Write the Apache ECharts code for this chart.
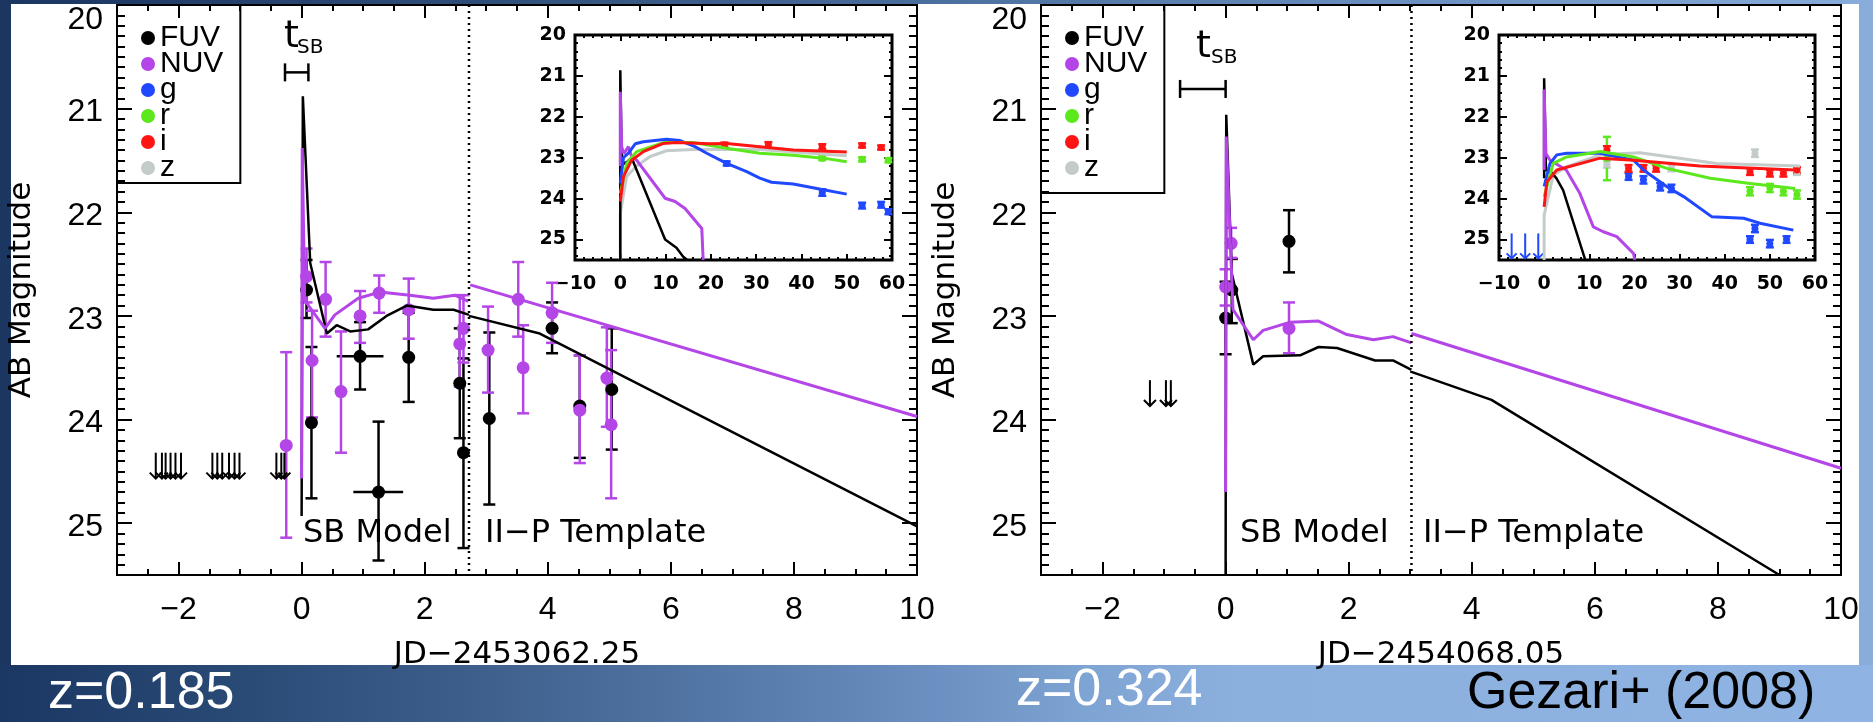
<!DOCTYPE html>
<html><head><meta charset="utf-8">
<script src="https://cdn.jsdelivr.net/npm/echarts@6.0.0/dist/echarts.min.js"></script>
<style>html,body{margin:0;padding:0;background:#fff;}#c{width:1873px;height:722px;}</style>
</head><body><div id="c"></div>
<script>
// ================= DATA =================
const X_MAJOR_TICKS = [-2, 0, 2, 4, 6, 8, 10];
const Y_RANGE = [20, 25.5];
const X_RANGE = [-3, 10];
const INSET_X_RANGE = [-10, 60];
const LEGEND_NAMES = ['FUV', 'NUV', 'g', 'r', 'i', 'z'];

// ---- Panel A (z=0.185), JD-2453062.25 ----
// [x, mag, magLo, magHi, xLo, xHi]
const A_FUV_pts = [
  [0.08, 22.75, 22.46, 23.02, 0.08, 0.08],
  [0.16, 24.03, 23.30, 24.76, 0.16, 0.16],
  [0.95, 23.39, 23.06, 23.71, 0.57, 1.33],
  [1.25, 24.70, 24.02, 25.36, 0.84, 1.65],
  [1.74, 23.40, 22.97, 23.83, 1.74, 1.74],
  [2.57, 23.65, 23.12, 24.18, 2.57, 2.57],
  [2.63, 24.32, 23.41, 25.24, 2.63, 2.63],
  [3.05, 23.99, 23.16, 24.82, 3.05, 3.05],
  [4.07, 23.12, 22.87, 23.36, 4.07, 4.07],
  [4.52, 23.87, 23.38, 24.37, 4.52, 4.52],
  [5.04, 23.71, 23.12, 24.29, 5.04, 5.04]
];
// [x, mag, magLo, magHi]
const A_NUV_pts = [
  [-0.25, 24.25, 23.35, 25.14],
  [0.08, 22.62, 22.35, 22.87],
  [0.17, 23.43, 22.95, 23.98],
  [0.39, 22.84, 22.48, 23.20],
  [0.64, 23.73, 23.15, 24.32],
  [0.95, 23.00, 22.76, 23.26],
  [1.26, 22.78, 22.61, 22.97],
  [1.74, 22.94, 22.64, 23.22],
  [2.57, 23.27, 22.80, 23.68],
  [2.63, 23.12, 22.80, 23.45],
  [3.03, 23.33, 22.91, 23.74],
  [3.52, 22.84, 22.48, 23.20],
  [3.60, 23.50, 23.09, 23.94],
  [4.07, 22.97, 22.68, 23.26],
  [4.52, 23.91, 23.38, 24.42],
  [4.96, 23.60, 23.11, 24.07],
  [5.03, 24.05, 23.33, 24.76]
];
const A_FUV_limit_x = [-2.37, -2.27, -2.21, -2.13, -2.05, -1.96, -1.45, -1.37, -1.29, -1.18, -1.09, -1.01, -0.41, -0.33, -0.28];
const A_FUV_limit_mag = [24.32, 24.57];
const A_FUV_sb = [[0,24.93],[0.02,20.88],[0.14,22.49],[0.41,23.17],[0.57,23.09],[0.79,23.15],[1.08,23.13],[1.38,23.0],[1.71,22.9],[2.14,22.94],[2.47,22.94],[2.72,22.99]];
const A_NUV_sb = [[0,24.57],[0.01,21.38],[0.05,22.85],[0.38,23.12],[0.54,22.99],[0.92,22.83],[1.27,22.77],[1.76,22.8],[2.14,22.83],[2.49,22.8],[2.71,22.86]];
const A_FUV_tpl = [[2.72,23.0],[3.87,23.17],[10,25.03]];
const A_NUV_tpl = [[2.74,22.7],[10,23.97]];
const A_break = 2.72;
const A_tsb = [-0.27, 0.11, 20.65];
// inset A
const A_in_FUV = [[0,25.5],[0,20.86],[0.3,22.9],[0.7,23.15],[1.5,23.1],[2.5,23.0],[9.9,25.0],[12.4,25.2],[13.9,25.42],[14.8,25.5]];
const A_in_NUV = [[0,23.2],[0,21.39],[0.3,22.73],[0.8,22.9],[1.8,22.73],[2.5,22.97],[3.6,23.06],[9.9,23.99],[12.1,24.07],[14.3,24.24],[18.0,24.73],[18.3,25.5]];
const A_in_g = [[0,23.63],[0.7,23.0],[1.8,22.89],[3.3,22.66],[5.1,22.61],[10.2,22.55],[13.2,22.58],[16.5,22.73],[19.1,22.89],[23.5,23.14],[27.9,23.34],[30.8,23.5],[33.4,23.6],[38.2,23.64],[43.4,23.75],[50,23.89]];
const A_in_r = [[0,23.87],[1.4,23.14],[3.6,22.85],[9.5,22.63],[16.1,22.63],[23.5,22.77],[30.8,22.89],[38.2,22.94],[44.8,23.01],[50,23.1]];
const A_in_i = [[0,24.07],[0.7,23.46],[2.5,23.06],[5.1,22.85],[9.5,22.65],[12.4,22.63],[19.8,22.66],[23.5,22.65],[30.8,22.73],[38.2,22.81],[50,22.86]];
const A_in_z = [[0,25.5],[0,24.36],[1.4,23.46],[3.6,23.2],[6.6,22.97],[10.2,22.83],[16.1,22.8],[30.8,22.8],[50,22.95]];
const A_in_i_pts = [[23.0,22.69,22.63,22.75],[32.7,22.69,22.62,22.76],[44.6,22.73,22.67,22.79],[53.4,22.70,22.65,22.75],[57.6,22.75,22.70,22.80]];
const A_in_r_pts = [[44.6,23.01,22.96,23.06],[53.4,23.04,22.99,23.09],[59.2,23.06,23.01,23.11]];
const A_in_g_pts = [[23.5,23.14,23.09,23.19],[44.6,23.85,23.77,23.93],[53.4,24.17,24.10,24.24],[57.6,24.15,24.08,24.22],[59.2,24.32,24.26,24.38]];

// ---- Panel B (z=0.324), JD-2454068.05 ----
const B_FUV_pts = [[0.0,23.02,22.67,23.37],[0.1,22.75,22.45,23.07],[1.03,22.28,21.98,22.58]];
const B_NUV_pts = [[0.0,22.72,22.55,22.90],[0.09,22.30,22.15,22.44],[1.03,23.12,22.87,23.36]];
const B_FUV_limit_x = [-1.23, -0.97, -0.89];
const B_FUV_limit_mag = [23.62, 23.87];
const B_FUV_sb = [[0,25.5],[0.01,21.06],[0.1,22.59],[0.45,23.47],[0.61,23.39],[1.21,23.38],[1.51,23.3],[1.81,23.31],[2.43,23.43],[2.72,23.43],[3.02,23.52]];
const B_NUV_sb = [[0,24.7],[0.01,21.27],[0.12,22.94],[0.45,23.23],[0.61,23.14],[1.05,23.06],[1.51,23.05],[1.97,23.18],[2.4,23.23],[2.72,23.2],[3.02,23.26]];
const B_FUV_tpl = [[3.02,23.54],[4.32,23.81],[9.0,25.5]];
const B_NUV_tpl = [[3.02,23.17],[10,24.47]];
const B_break = 3.02;
const B_tsb = [-0.74, 0.0, 20.81];
// inset B
const B_in_FUV = [[0,23.5],[0,21.06],[0.4,23.3],[1.5,23.35],[2.7,23.5],[4.2,23.79],[9.0,25.46],[9.1,25.5]];
const B_in_NUV = [[0,23.3],[0,21.33],[0.4,22.9],[1.3,23.06],[4.9,23.3],[7.9,23.87],[10.9,24.69],[13.1,24.81],[16.1,24.93],[19.8,25.34],[20.1,25.5]];
const B_in_g = [[0,23.7],[1.3,23.14],[2.8,22.93],[5.0,22.89],[12.4,22.89],[19.8,23.06],[22.0,23.3],[27.2,23.71],[30.9,23.95],[37.1,24.44],[44.2,24.48],[47.8,24.6],[55.2,24.77]];
const B_in_r = [[0,23.95],[2.0,23.14],[5.0,22.98],[12.4,22.85],[19.8,22.98],[27.2,23.26],[36.8,23.5],[45.6,23.63],[55.6,23.75]];
const B_in_i = [[0,24.2],[0.6,23.59],[2.8,23.3],[12.4,23.01],[19.8,23.06],[34.5,23.2],[55.6,23.3]];
const B_in_z = [[0,25.5],[0,24.4],[2.0,23.43],[5.0,23.22],[12.4,22.93],[21.2,22.88],[27.2,22.97],[38.2,23.14],[56.7,23.2]];
const B_in_i_pts = [[13.9,22.81,22.72,22.90],[18.7,23.26,23.18,23.34],[22.0,23.26,23.18,23.34],[24.8,23.26,23.18,23.34],[45.6,23.34,23.26,23.42],[50.0,23.38,23.30,23.46],[53.0,23.38,23.30,23.46],[56.0,23.30,23.23,23.37]];
const B_in_r_pts = [[13.9,23.02,22.49,23.55],[45.6,23.82,23.72,23.92],[50.0,23.74,23.64,23.84],[53.0,23.82,23.72,23.92],[56.0,23.90,23.80,24.00]];
const B_in_g_pts = [[18.7,23.46,23.38,23.54],[22.0,23.54,23.45,23.63],[25.7,23.71,23.62,23.80],[28.2,23.75,23.66,23.84],[46.7,24.73,24.64,24.82],[45.6,25.00,24.92,25.08],[50.0,25.10,25.01,25.19],[53.7,25.00,24.92,25.08]];
const B_in_z_pts = [[13.9,23.16,23.08,23.24],[28.2,23.25,23.17,23.33],[46.7,22.89,22.80,22.98],[56.0,23.35,23.28,23.42]];
const B_in_g_limit_x = [-7.2, -4.2, -1.3];
const B_in_g_limit_mag = [24.85, 25.46];

// ================= STYLE =================
const BLACK = '#000000', PURPLE = '#b445e6', BLUE = '#1f48ff', GREEN = '#5ce81c', RED = '#ff1414', GRAY = '#c3cbcb';
const TICK_FONT = 'Liberation Sans', TITLE_FONT = 'DejaVu Sans';
const minus = v => (v < 0 ? '\u2212' + Math.abs(v) : String(v));
const isInt = v => Math.abs(v - Math.round(v)) < 1e-9;
const tickLS = {color: BLACK, width: 2};

function mainXAxes(gi, name) {
  const base = {gridIndex: gi, type: 'value', min: X_RANGE[0], max: X_RANGE[1], interval: 0.5,
    splitLine: {show: false}, axisLine: {show: false, onZero: false}};
  return [
    Object.assign({}, base, {position: 'bottom',
      axisTick: {inside: true, length: 6, lineStyle: tickLS},
      axisLabel: {margin: 19, color: BLACK, fontFamily: TICK_FONT, fontSize: 32,
        formatter: v => (isInt(v) && Math.round(v) % 2 === 0 ? minus(Math.round(v)) : '')},
      name: name, nameLocation: 'middle', nameGap: 64,
      nameTextStyle: {fontFamily: TITLE_FONT, fontSize: 31, color: BLACK}}),
    Object.assign({}, base, {position: 'bottom', axisLabel: {show: false},
      axisTick: {inside: true, length: 13, customValues: X_MAJOR_TICKS, lineStyle: tickLS}}),
    Object.assign({}, base, {position: 'top', axisLabel: {show: false},
      axisTick: {inside: true, length: 6, lineStyle: tickLS}}),
    Object.assign({}, base, {position: 'top', axisLabel: {show: false},
      axisTick: {inside: true, length: 13, customValues: X_MAJOR_TICKS, lineStyle: tickLS}})
  ];
}
const yLabFont = {fontFamily: TICK_FONT, fontSize: 32, color: BLACK};
function mainYAxes(gi) {
  const base = {gridIndex: gi, type: 'value', inverse: true, min: Y_RANGE[0], max: Y_RANGE[1], interval: 1,
    splitLine: {show: false}, axisLine: {show: false, onZero: false},
    axisTick: {inside: true, length: 15, lineStyle: tickLS},
    minorTick: {show: true, splitNumber: 10, length: 8, lineStyle: tickLS}};
  return [
    Object.assign({}, base, {position: 'left',
      axisLabel: {margin: 14, color: BLACK, fontFamily: TICK_FONT, fontSize: 32,
        formatter: v => (isInt(v) ? (Math.round(v) === Y_RANGE[0] ? '{t|' + Math.round(v) + '}' : '{n|' + Math.round(v) + '}') : ''),
        rich: {t: Object.assign({padding: [30, 0, 0, 0]}, yLabFont), n: Object.assign({padding: [8, 0, 0, 0]}, yLabFont)}},
      name: 'AB Magnitude', nameLocation: 'middle', nameGap: 80,
      nameTextStyle: {fontFamily: TITLE_FONT, fontSize: 31, color: BLACK}}),
    Object.assign({}, base, {position: 'right', axisLabel: {show: false}})
  ];
}
function insetXAxes(gi) {
  const base = {gridIndex: gi, type: 'value', min: INSET_X_RANGE[0], max: INSET_X_RANGE[1], interval: 10,
    splitLine: {show: false}, axisLine: {show: false, onZero: false},
    axisTick: {inside: true, length: 6, lineStyle: tickLS},
    minorTick: {show: true, splitNumber: 5, length: 3, lineStyle: tickLS}};
  return [
    Object.assign({}, base, {position: 'bottom',
      axisLabel: {margin: 15, color: BLACK, fontFamily: TITLE_FONT, fontWeight: 'bold', fontSize: 19, formatter: v => minus(v)}}),
    Object.assign({}, base, {position: 'top', axisLabel: {show: false}})
  ];
}
function insetYAxes(gi) {
  const base = {gridIndex: gi, type: 'value', inverse: true, min: Y_RANGE[0], max: Y_RANGE[1], interval: 1,
    splitLine: {show: false}, axisLine: {show: false, onZero: false},
    axisTick: {inside: true, length: 8, lineStyle: tickLS},
    minorTick: {show: true, splitNumber: 5, length: 3, lineStyle: tickLS}};
  return [
    Object.assign({}, base, {position: 'left',
      axisLabel: {margin: 9, color: BLACK, fontFamily: TITLE_FONT, fontWeight: 'bold', fontSize: 19, formatter: v => (isInt(v) ? String(Math.round(v)) : '')}}),
    Object.assign({}, base, {position: 'right', axisLabel: {show: false}})
  ];
}

// ---------- series helpers ----------
function lineS(data, color, width, xi, yi, extra) {
  return Object.assign({type: 'line', data: data, xAxisIndex: xi, yAxisIndex: yi, showSymbol: false, symbol: 'none',
    lineStyle: {color: color, width: width}, itemStyle: {color: color}, silent: true, clip: true}, extra || {});
}
function errS(data, color, lw, cap, xi, yi) {
  return {type: 'custom', data: data, xAxisIndex: xi, yAxisIndex: yi, silent: true, encode: {x: 0, y: 1},
    renderItem: function (params, api) {
      const x = api.value(0), y = api.value(1), lo = api.value(2), hi = api.value(3);
      const a = api.coord([x, lo]), b = api.coord([x, hi]);
      const st = {stroke: color, lineWidth: lw};
      const ch = [
        {type: 'line', shape: {x1: a[0], y1: a[1], x2: b[0], y2: b[1]}, style: st},
        {type: 'line', shape: {x1: a[0] - cap, y1: a[1], x2: a[0] + cap, y2: a[1]}, style: st},
        {type: 'line', shape: {x1: b[0] - cap, y1: b[1], x2: b[0] + cap, y2: b[1]}, style: st}
      ];
      const xlo = api.value(4), xhi = api.value(5);
      if (xhi > xlo) {
        const c = api.coord([xlo, y]), d = api.coord([xhi, y]);
        ch.push({type: 'line', shape: {x1: c[0], y1: c[1], x2: d[0], y2: d[1]}, style: st});
      }
      return {type: 'group', children: ch};
    }};
}
function ptS(name, data, color, size, xi, yi) {
  return {type: 'scatter', name: name, data: data.map(d => [d[0], d[1]]), xAxisIndex: xi, yAxisIndex: yi,
    symbol: 'circle', symbolSize: size, itemStyle: {color: color, opacity: 1}, silent: true};
}
function arrowS(xs, mags, color, lw, head, xi, yi) {
  return {type: 'custom', data: xs.map(x => [x, mags[0], mags[1]]), xAxisIndex: xi, yAxisIndex: yi, silent: true, encode: {x: 0, y: 1},
    renderItem: function (params, api) {
      const p1 = api.coord([api.value(0), api.value(1)]), p2 = api.coord([api.value(0), api.value(2)]);
      const st = {stroke: color, lineWidth: lw, fill: null};
      return {type: 'group', children: [
        {type: 'line', shape: {x1: p1[0], y1: p1[1], x2: p2[0], y2: p2[1]}, style: st},
        {type: 'polyline', shape: {points: [[p2[0] - head, p2[1] - head], [p2[0], p2[1]], [p2[0] + head, p2[1] - head]]}, style: st}
      ]};
    }};
}
function tsbS(t, xi, yi) {
  return {type: 'custom', data: [t], xAxisIndex: xi, yAxisIndex: yi, silent: true, encode: {x: [0, 1], y: 2},
    renderItem: function (params, api) {
      const a = api.coord([api.value(0), api.value(2)]), b = api.coord([api.value(1), api.value(2)]);
      const st = {stroke: BLACK, lineWidth: 2.5}, h = 9;
      return {type: 'group', children: [
        {type: 'line', shape: {x1: a[0], y1: a[1], x2: b[0], y2: b[1]}, style: st},
        {type: 'line', shape: {x1: a[0], y1: a[1] - h, x2: a[0], y2: a[1] + h}, style: st},
        {type: 'line', shape: {x1: b[0], y1: b[1] - h, x2: b[0], y2: b[1] + h}, style: st}
      ]};
    }};
}
function breakS(x, xi, yi) {
  return lineS([[x, Y_RANGE[0]], [x, Y_RANGE[1]]], BLACK, 2.5, xi, yi, {lineStyle: {color: BLACK, width: 2.5, type: [2, 4]}});
}

function mainPanel(P, xi, yi) {
  return [
    lineS(P.fuvSb, BLACK, 2.5, xi, yi),
    lineS(P.fuvTpl, BLACK, 2.5, xi, yi),
    lineS(P.nuvSb, PURPLE, 3, xi, yi),
    lineS(P.nuvTpl, PURPLE, 3, xi, yi),
    breakS(P.brk, xi, yi),
    errS(P.fuvPts, BLACK, 2.5, 6, xi, yi),
    ptS('FUV', P.fuvPts, BLACK, 13, xi, yi),
    errS(P.nuvPts, PURPLE, 2.5, 6, xi, yi),
    ptS('NUV', P.nuvPts, PURPLE, 13, xi, yi),
    arrowS(P.limX, P.limMag, BLACK, 2, 6, xi, yi),
    tsbS(P.tsb, xi, yi)
  ];
}
function insetPanel(I, xi, yi) {
  const s = [
    lineS(I.z, GRAY, 3, xi, yi),
    lineS(I.fuv, BLACK, 2.5, xi, yi),
    lineS(I.nuv, PURPLE, 3, xi, yi),
    lineS(I.g, BLUE, 3, xi, yi),
    lineS(I.r, GREEN, 3, xi, yi),
    lineS(I.i, RED, 3, xi, yi)
  ];
  const pts = [['z', I.zPts, GRAY], ['g', I.gPts, BLUE], ['r', I.rPts, GREEN], ['i', I.iPts, RED]];
  pts.forEach(p => {
    if (!p[1]) return;
    s.push(errS(p[1], p[2], 2.5, 4, xi, yi));
    s.push(ptS(p[0], p[1], p[2], 7, xi, yi));
  });
  if (I.limX) s.push(arrowS(I.limX, I.limMag, BLUE, 2, 5, xi, yi));
  return s;
}

const series = [].concat(
  mainPanel({fuvSb: A_FUV_sb, fuvTpl: A_FUV_tpl, nuvSb: A_NUV_sb, nuvTpl: A_NUV_tpl, brk: A_break,
    fuvPts: A_FUV_pts, nuvPts: A_NUV_pts, limX: A_FUV_limit_x, limMag: A_FUV_limit_mag, tsb: A_tsb}, 0, 0),
  mainPanel({fuvSb: B_FUV_sb, fuvTpl: B_FUV_tpl, nuvSb: B_NUV_sb, nuvTpl: B_NUV_tpl, brk: B_break,
    fuvPts: B_FUV_pts, nuvPts: B_NUV_pts, limX: B_FUV_limit_x, limMag: B_FUV_limit_mag, tsb: B_tsb}, 4, 2),
  insetPanel({fuv: A_in_FUV, nuv: A_in_NUV, g: A_in_g, r: A_in_r, i: A_in_i, z: A_in_z,
    gPts: A_in_g_pts, rPts: A_in_r_pts, iPts: A_in_i_pts}, 8, 4),
  insetPanel({fuv: B_in_FUV, nuv: B_in_NUV, g: B_in_g, r: B_in_r, i: B_in_i, z: B_in_z,
    gPts: B_in_g_pts, rPts: B_in_r_pts, iPts: B_in_i_pts, zPts: B_in_z_pts,
    limX: B_in_g_limit_x, limMag: B_in_g_limit_mag}, 10, 6)
);

// ---------- background / annotations ----------
const topGrad = new echarts.graphic.LinearGradient(0, 0, 1873, 0, [
  {offset: 0, color: '#1b3660'}, {offset: 0.25, color: '#2e4d79'}, {offset: 0.5, color: '#4b6f9e'},
  {offset: 0.75, color: '#6a90c1'}, {offset: 1, color: '#88addb'}], true);
const botGrad = new echarts.graphic.LinearGradient(0, 0, 1873, 0, [
  {offset: 0, color: '#1b3763'}, {offset: 0.12, color: '#294975'}, {offset: 0.25, color: '#3d5e8b'},
  {offset: 0.37, color: '#5175a4'}, {offset: 0.5, color: '#6b90c1'}, {offset: 0.58, color: '#7ea4d3'},
  {offset: 0.66, color: '#8cb0de'}, {offset: 1, color: '#8fb3e2'}], true);
function txt(text, x, y, font, fill) {
  return {type: 'text', x: x, y: y, z: 50, silent: true,
    style: {text: text, font: font, fill: fill || BLACK, align: 'left', verticalAlign: 'middle'}};
}
const graphics = [
  {type: 'rect', shape: {x: 0, y: 0, width: 1873, height: 4}, style: {fill: topGrad}, z: -1, silent: true},
  {type: 'rect', shape: {x: 0, y: 0, width: 11, height: 722}, style: {fill: topGrad}, z: -1, silent: true},
  {type: 'rect', shape: {x: 1859, y: 0, width: 14, height: 722}, style: {fill: topGrad}, z: -1, silent: true},
  {type: 'rect', shape: {x: 0, y: 665, width: 1873, height: 57}, style: {fill: botGrad}, z: -1, silent: true},
  txt('t', 284, 37, '38px "DejaVu Sans"'),
  txt('SB', 297, 48, '20px "DejaVu Sans"'),
  txt('t', 1196, 47, '38px "DejaVu Sans"'),
  txt('SB', 1211, 58, '20px "DejaVu Sans"'),
  txt('SB Model', 303, 534, '32px "DejaVu Sans"'),
  txt('II\u2212P Template', 485, 534, '32px "DejaVu Sans"'),
  txt('SB Model', 1240, 534, '32px "DejaVu Sans"'),
  txt('II\u2212P Template', 1423, 534, '32px "DejaVu Sans"'),
  txt('z=0.185', 48, 694, '52px "Liberation Sans"', '#ffffff'),
  txt('z=0.324', 1016, 691, '52px "Liberation Sans"', '#ffffff'),
  txt('Gezari+ (2008)', 1467, 694, '52px "Liberation Sans"', BLACK)
];

const gridBase = {show: true, borderColor: BLACK, containLabel: false, outerBoundsMode: 'none'};
const option = {
  backgroundColor: '#ffffff',
  animation: false,
  grid: [
    Object.assign({left: 117, top: 5, width: 800, height: 570, borderWidth: 2, backgroundColor: 'transparent'}, gridBase),
    Object.assign({left: 1041, top: 5, width: 800, height: 570, borderWidth: 2, backgroundColor: 'transparent'}, gridBase),
    Object.assign({left: 575, top: 35, width: 317, height: 225, borderWidth: 3, backgroundColor: '#ffffff'}, gridBase),
    Object.assign({left: 1499, top: 35, width: 316, height: 225, borderWidth: 3, backgroundColor: '#ffffff'}, gridBase)
  ],
  xAxis: [].concat(mainXAxes(0, 'JD\u22122453062.25'), mainXAxes(1, 'JD\u22122454068.05'), insetXAxes(2), insetXAxes(3)),
  yAxis: [].concat(mainYAxes(0), mainYAxes(1), insetYAxes(2), insetYAxes(3)),
  legend: [117, 1041].map((left, k) => ({
    data: LEGEND_NAMES, orient: 'vertical', left: left, top: 5,
    icon: 'circle', itemWidth: 14, itemHeight: 14, itemGap: -4,
    padding: k ? [18, 17, 10, 24] : [18, 17, 0, 24],
    borderColor: BLACK, borderWidth: 2, selectedMode: false,
    textStyle: {fontFamily: TICK_FONT, fontSize: 30, color: BLACK, lineHeight: 20}
  })),
  graphic: graphics,
  series: series
};
const chart = echarts.init(document.getElementById('c'), null, {renderer: 'canvas', width: 1873, height: 722});
chart.setOption(option);
</script>
</body></html>
